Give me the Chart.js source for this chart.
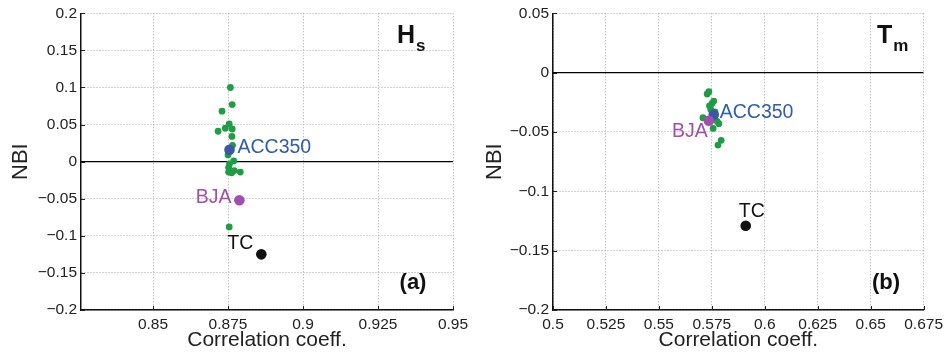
<!DOCTYPE html>
<html><head><meta charset="utf-8">
<script src="https://cdn.jsdelivr.net/npm/chart.js@4"></script>
<style>
body{margin:0;background:#fff;width:948px;height:356px;overflow:hidden;position:relative}
.p{position:absolute;top:0;width:474px;height:356px}
</style></head><body>
<div class="p" style="left:0"><canvas id="ca" width="474" height="356"></canvas></div>
<div class="p" style="left:474px"><canvas id="cb" width="474" height="356"></canvas></div>
<script>
// ---------- data: panel (a) Hs ----------
const hsModelCorr = [0.8758,0.8764,0.8730,0.8754,0.8741,0.8764,0.8717,0.8763,0.8765,0.8750,0.8769,0.8755,0.8752,0.8771,0.8752,0.8762,0.8791,0.8754];
const hsModelNBI  = [0.100,0.077,0.068,0.051,0.045,0.044,0.041,0.034,0.022,0.009,0.001,-0.003,-0.008,-0.012,-0.014,-0.015,-0.014,-0.088];
const hsNamed     = ['ACC350','BJA','TC'];
const hsNamedCorr = [0.8755,0.8788,0.8861];
const hsNamedNBI  = [0.016,-0.052,-0.125];
const hsXTicks = [0.85,0.875,0.9,0.925,0.95];
const hsYTicks = [0.2,0.15,0.1,0.05,0,-0.05,-0.1,-0.15,-0.2];
const hsXRange = [0.826,0.95];
const hsYRange = [-0.2,0.2];

// ---------- data: panel (b) Tm ----------
const tmModelCorr = [0.5736,0.5728,0.5759,0.5751,0.5739,0.5708,0.5775,0.5783,0.5756,0.5794,0.5779,0.5745,0.5765];
const tmModelNBI  = [-0.016,-0.018,-0.024,-0.026,-0.028,-0.038,-0.041,-0.043,-0.047,-0.057,-0.061,-0.031,-0.033];
const tmNamed     = ['ACC350','BJA','TC'];
const tmNamedCorr = [0.5759,0.5736,0.5910];
const tmNamedNBI  = [-0.0355,-0.0406,-0.129];
const tmXTicks = [0.5,0.525,0.55,0.575,0.6,0.625,0.65,0.675];
const tmYTicks = [0.05,0,-0.05,-0.1,-0.15,-0.2];
const tmXRange = [0.5,0.675];
const tmYRange = [-0.2,0.05];

// ---------- styles ----------
const GREEN = '#1f9d45';
const namedColors = ['#3b56a8','#a04fae','#111111'];
const labelColors = ['#2f5eac','#a24fab','#111111'];
const FONT = 'Liberation Sans, Arial, Helvetica, sans-serif';

function fmt(v){ if(v===0) return '0'; return (v<0?'\u2212':'') + String(Math.abs(v)); }

const innerTicks = {
  id:'innerTicks',
  beforeDatasetsDraw(chart, args, o){
    const {ctx, chartArea:a, scales:{x,y}} = chart;
    ctx.save(); ctx.strokeStyle='#222'; ctx.lineWidth=1;
    o.xt.forEach(v=>{const p=Math.round(x.getPixelForValue(v))+0.5; ctx.beginPath(); ctx.moveTo(p,a.bottom); ctx.lineTo(p,a.bottom-4); ctx.stroke();});
    o.yt.forEach(v=>{const p=Math.round(y.getPixelForValue(v))+0.5; ctx.beginPath(); ctx.moveTo(a.left,p); ctx.lineTo(a.left+4,p); ctx.stroke();});
    ctx.restore();
  }
};

const decor = {
  id:'decor',
  afterDatasetsDraw(chart, args, o){
    const {ctx, scales:{x,y}} = chart;
    ctx.save();
    ctx.font = '19.5px ' + FONT; ctx.textBaseline='middle';
    o.names.forEach((n,i)=>{
      const px = x.getPixelForValue(o.cx[i]), py = y.getPixelForValue(o.cy[i]);
      const off = o.offsets[i];
      ctx.fillStyle = labelColors[i]; ctx.textAlign = off[2];
      ctx.fillText(n, px+off[0], py+off[1]);
    });
    ctx.fillStyle='#111'; ctx.textAlign='left'; ctx.textBaseline='alphabetic';
    ctx.font = 'bold 25px ' + FONT; ctx.fillText(o.v[0], o.vpos[0], o.vpos[1]);
    const w = ctx.measureText(o.v[0]).width;
    ctx.font = 'bold 17px ' + FONT; ctx.fillText(o.v[1], o.vpos[0]+w+1, o.vpos[1]+8);
    ctx.font = 'bold 22px ' + FONT; ctx.textAlign='center'; ctx.textBaseline='middle';
    ctx.fillText(o.letter, o.lpos[0], o.lpos[1]);
    ctx.restore();
  }
};

function make(id, mc, mn, names, nc, nn, xt, yt, xr, yr, yw, padR, deco){
  return new Chart(document.getElementById(id), {
    type:'scatter',
    data:{datasets:[
      {data:nc.map((v,i)=>({x:v,y:nn[i]})), pointRadius:5.3, pointBackgroundColor:namedColors, pointBorderWidth:0, pointHoverRadius:5.3},
      {data:mc.map((v,i)=>({x:v,y:mn[i]})), pointRadius:3.4, pointBackgroundColor:GREEN, pointBorderWidth:0, pointHoverRadius:3.4},
      {type:'line', data:[{x:xr[0],y:0},{x:xr[1],y:0}], borderColor:'#000', borderWidth:1.2, pointRadius:0, fill:false}
    ]},
    options:{
      responsive:false, animation:false, devicePixelRatio:1,
      layout:{padding:{top:11,right:padR,left:0,bottom:0}},
      plugins:{legend:{display:false}, tooltip:{enabled:false}, innerTicks:{xt, yt}, decor:deco},
      scales:{
        x:{type:'linear', min:xr[0], max:xr[1],
          afterBuildTicks:s=>{s.ticks = xt.map(v=>({value:v}));},
          afterFit:s=>{s.height=46;},
          grid:{color:'#a8a8a8', lineWidth:1, drawTicks:false},
          border:{display:true, color:'#111', width:1.5, dash:[1,2]},
          ticks:{padding:5, color:'#222', font:{family:FONT,size:15.5}, callback:v=>fmt(v), autoSkip:false, maxRotation:0},
          title:{display:true, text:'Correlation coeff.', color:'#222', font:{family:FONT,size:21}, padding:{top:0,bottom:3}}
        },
        y:{type:'linear', min:yr[0], max:yr[1],
          afterBuildTicks:s=>{s.ticks = yt.map(v=>({value:v}));},
          afterFit:s=>{s.width=yw;},
          grid:{color:'#a8a8a8', lineWidth:1, drawTicks:false},
          border:{display:true, color:'#111', width:1.5, dash:[1,2]},
          ticks:{padding:4, color:'#222', font:{family:FONT,size:15.5}, callback:v=>fmt(v), autoSkip:false},
          title:{display:true, text:'NBI', color:'#222', font:{family:FONT,size:22}, padding:{top:8,bottom:0}}
        }
      }
    },
    plugins:[innerTicks, decor]
  });
}

make('ca', hsModelCorr, hsModelNBI, hsNamed, hsNamedCorr, hsNamedNBI, hsXTicks, hsYTicks, hsXRange, hsYRange, 81, 21,
  {names:hsNamed, cx:hsNamedCorr, cy:hsNamedNBI,
   offsets:[[8,-2,'left'],[-8,-3,'right'],[-8,-11,'right']],
   v:['H','s'], vpos:[397,43], letter:'(a)', lpos:[413,283]});
make('cb', tmModelCorr, tmModelNBI, tmNamed, tmNamedCorr, tmNamedNBI, tmXTicks, tmYTicks, tmXRange, tmYRange, 79, 22,
  {names:tmNamed, cx:tmNamedCorr, cy:tmNamedNBI,
   offsets:[[6,-2,'left'],[-1,11,'right'],[6,-14,'center']],
   v:['T','m'], vpos:[403,43], letter:'(b)', lpos:[412,283]});
</script>
</body></html>
